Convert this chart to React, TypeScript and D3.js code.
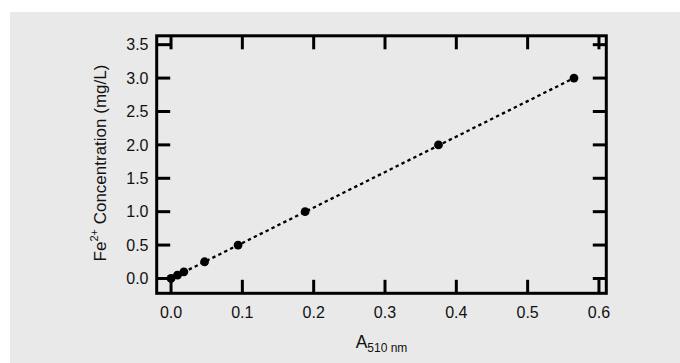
import { useEffect, useRef } from "react";
import * as d3 from "d3";

// absorbance at 510 nm vs Fe2+ concentration (mg/L)
const absorbance = [0, 0.009, 0.018, 0.047, 0.094, 0.188, 0.375, 0.565];
const concentration = [0, 0.05, 0.1, 0.25, 0.5, 1.0, 2.0, 3.0];

// endpoints of the fitted calibration line
const fitX = [0, 0.565];
const fitY = [0, 3.0];

const xTicks = [0, 0.1, 0.2, 0.3, 0.4, 0.5, 0.6];
const yTicks = [0, 0.5, 1.0, 1.5, 2.0, 2.5, 3.0, 3.5];

const WIDTH = 680;
const HEIGHT = 363;

function CalibrationChart() {
    const svgRef = useRef<SVGSVGElement | null>(null);

    useEffect(() => {
        const svg = d3.select(svgRef.current);
        svg.selectAll("*").remove();

        const margin = { top: 35.8, right: 73.7, bottom: 69.7, left: 156.7 };
        const font = "'Liberation Sans', Arial, Helvetica, sans-serif";

        // panel background
        svg.append("rect")
            .attr("x", 10)
            .attr("y", 12)
            .attr("width", WIDTH - 10)
            .attr("height", HEIGHT - 12)
            .attr("fill", "#e9e9e9");

        const x = d3.scaleLinear()
            .domain([-0.0201, 0.6103])
            .range([margin.left, WIDTH - margin.right]);

        const y = d3.scaleLinear()
            .domain([-0.222, 3.633])
            .range([HEIGHT - margin.bottom, margin.top]);

        const tickLen = 13.5;
        const axisW = 3;

        // inside ticks on all four sides
        const ticks = svg.append("g").attr("stroke", "#000").attr("stroke-width", axisW);
        xTicks.forEach((t) => {
            ticks.append("line")
                .attr("x1", x(t)).attr("x2", x(t))
                .attr("y1", y.range()[0]).attr("y2", y.range()[0] - tickLen);
            ticks.append("line")
                .attr("x1", x(t)).attr("x2", x(t))
                .attr("y1", y.range()[1]).attr("y2", y.range()[1] + tickLen);
        });
        yTicks.forEach((t) => {
            ticks.append("line")
                .attr("x1", x.range()[0]).attr("x2", x.range()[0] + tickLen)
                .attr("y1", y(t)).attr("y2", y(t));
            ticks.append("line")
                .attr("x1", x.range()[1]).attr("x2", x.range()[1] - tickLen)
                .attr("y1", y(t)).attr("y2", y(t));
        });

        // frame
        svg.append("rect")
            .attr("x", x.range()[0])
            .attr("y", y.range()[1])
            .attr("width", x.range()[1] - x.range()[0])
            .attr("height", y.range()[0] - y.range()[1])
            .attr("fill", "none")
            .attr("stroke", "#000")
            .attr("stroke-width", axisW);

        // tick labels
        svg.append("g")
            .selectAll("text")
            .data(xTicks)
            .join("text")
            .attr("x", (d) => x(d))
            .attr("y", 318)
            .attr("text-anchor", "middle")
            .attr("font-family", font)
            .attr("font-size", 16)
            .attr("fill", "#111")
            .text((d) => d.toFixed(1));

        svg.append("g")
            .selectAll("text")
            .data(yTicks)
            .join("text")
            .attr("x", 148.5)
            .attr("y", (d) => y(d))
            .attr("dy", "0.36em")
            .attr("text-anchor", "end")
            .attr("font-family", font)
            .attr("font-size", 16)
            .attr("fill", "#111")
            .text((d) => d.toFixed(1));

        // fitted line
        const line = d3.line<number>()
            .x((d) => x(d))
            .y((_, i) => y(fitY[i]));

        svg.append("path")
            .datum(fitX)
            .attr("fill", "none")
            .attr("stroke", "#000")
            .attr("stroke-width", 2.3)
            .attr("stroke-dasharray", "3.4,3.2")
            .attr("d", line);

        // data points
        svg.append("g")
            .selectAll("circle")
            .data(absorbance)
            .join("circle")
            .attr("cx", (d) => x(d))
            .attr("cy", (_, i) => y(concentration[i]))
            .attr("r", 4.4)
            .attr("fill", "#000");

        // x axis title
        const xt = svg.append("text")
            .attr("x", (x.range()[0] + x.range()[1]) / 2)
            .attr("y", 347.5)
            .attr("text-anchor", "middle")
            .attr("font-family", font)
            .attr("font-size", 17.5)
            .attr("fill", "#111");
        xt.append("tspan").text("A");
        xt.append("tspan").attr("font-size", 12).attr("dy", 4).text("510 nm");

        // y axis title
        const yt = svg.append("text")
            .attr("transform", `translate(106,${(y.range()[0] + y.range()[1]) / 2 - 1.5}) rotate(-90)`)
            .attr("text-anchor", "middle")
            .attr("font-family", font)
            .attr("font-size", 17)
            .attr("fill", "#111");
        yt.append("tspan").text("Fe");
        yt.append("tspan").attr("font-size", 11).attr("dy", -8).text("2+");
        yt.append("tspan").attr("dy", 8).text(" Concentration (mg/L)");
    }, []);

    return (
        <svg
            ref={svgRef}
            width={WIDTH}
            height={HEIGHT}
            style={{ position: "absolute", left: 0, top: 0, background: "#fff" }}
        />
    );
}

export default function App() {
    return <CalibrationChart />;
}
